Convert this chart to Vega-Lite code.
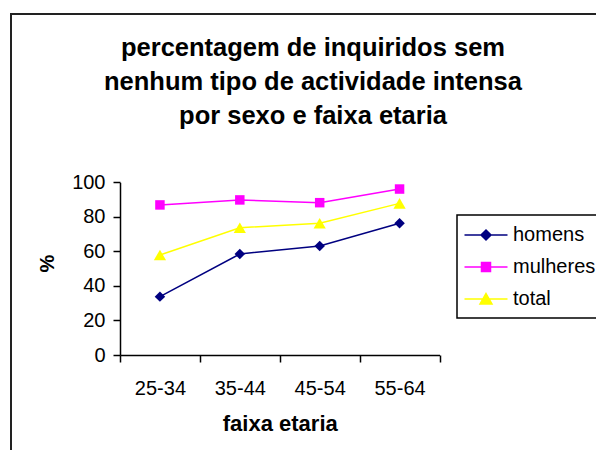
{
  "$schema": "https://vega.github.io/schema/vega-lite/v6.json",
  "width": 586,
  "height": 437,
  "autosize": {"type": "none"},
  "padding": {"left": 11, "top": 14, "right": -1, "bottom": -1},
  "background": "white",
  "title": {
    "text": ["percentagem de inquiridos sem", "nenhum tipo de actividade intensa", "por sexo e faixa etaria"],
    "frame": "group",
    "anchor": "middle",
    "orient": "top",
    "baseline": "alphabetic",
    "font": "Liberation Sans",
    "fontSize": 25.5,
    "fontWeight": "bold",
    "lineHeight": 34,
    "offset": -135,
    "dx": 9,
    "color": "black"
  },
  "data": {
    "values": [
      {"faixa": "25-34", "serie": "homens", "pct": 33.8},
      {"faixa": "35-44", "serie": "homens", "pct": 58.5},
      {"faixa": "45-54", "serie": "homens", "pct": 63.1},
      {"faixa": "55-64", "serie": "homens", "pct": 76.3},
      {"faixa": "25-34", "serie": "mulheres", "pct": 86.9},
      {"faixa": "35-44", "serie": "mulheres", "pct": 89.8},
      {"faixa": "45-54", "serie": "mulheres", "pct": 88.2},
      {"faixa": "55-64", "serie": "mulheres", "pct": 96.1},
      {"faixa": "25-34", "serie": "total", "pct": 57.9},
      {"faixa": "35-44", "serie": "total", "pct": 73.7},
      {"faixa": "45-54", "serie": "total", "pct": 76.3},
      {"faixa": "55-64", "serie": "total", "pct": 87.8}
    ]
  },
  "encoding": {
    "x": {
      "field": "faixa",
      "type": "ordinal",
      "scale": {"type": "band", "range": [109, 428.5], "paddingInner": 0, "paddingOuter": 0},
      "axis": {
        "orient": "bottom",
        "offset": -96,
        "title": "faixa etaria",
        "tickBand": "extent",
        "tickSize": 7,
        "labelPadding": 16,
        "labelAngle": 0,
        "labelFont": "Liberation Sans",
        "labelFontSize": 20,
        "labelColor": "black",
        "titleFont": "Liberation Sans",
        "titleFontSize": 22,
        "titleFontWeight": "bold",
        "titleColor": "black",
        "titlePadding": 15,
        "domainColor": "black",
        "domainWidth": 1.5,
        "tickColor": "black",
        "tickWidth": 1.5,
        "grid": false
      }
    },
    "y": {
      "field": "pct",
      "type": "quantitative",
      "scale": {"domain": [0, 100], "range": [341, 168.3], "nice": false, "zero": true},
      "axis": {
        "orient": "left",
        "offset": -109,
        "title": "%",
        "titleY": 249,
        "values": [0, 20, 40, 60, 80, 100],
        "tickSize": 7,
        "labelPadding": 8,
        "labelFont": "Liberation Sans",
        "labelFontSize": 20,
        "labelColor": "black",
        "titleFont": "Liberation Sans",
        "titleFontSize": 20,
        "titleFontWeight": "bold",
        "titleColor": "black",
        "titlePadding": 14,
        "domainColor": "black",
        "domainWidth": 1.5,
        "tickColor": "black",
        "tickWidth": 1.5,
        "grid": false
      }
    },
    "color": {
      "field": "serie",
      "type": "nominal",
      "scale": {"domain": ["homens", "mulheres", "total"], "range": ["#000080", "#FF00FF", "#FFFF00"]},
      "legend": {
        "orient": "none",
        "legendX": 446,
        "legendY": 201,
        "title": null,
        "strokeColor": "black",
        "fillColor": "white",
        "padding": 9,
        "rowPadding": 11,
        "labelOffset": 25,
        "labelFont": "Liberation Sans",
        "labelFontSize": 20,
        "labelColor": "black",
        "symbolSize": 400,
        "encode": {
          "legend": {"update": {"strokeWidth": {"value": 1.5}}},
          "symbols": {
            "update": {
              "shape": {"signal": "datum.value === 'homens' ? 'M-1.25,0H3.05M0.9,-0.5L1.4,0L0.9,0.5L0.4,0Z' : datum.value === 'mulheres' ? 'M-1.25,0H3.05M0.45,-0.45H1.35V0.45H0.45Z' : 'M-1.25,0H3.05M0.9,-0.55L1.5,0.5H0.3Z'"},
              "fill": {"signal": "scale('color', datum.value)"},
              "stroke": {"signal": "scale('color', datum.value)"},
              "strokeWidth": {"value": 1.5},
              "size": {"value": 400},
              "opacity": {"value": 1}
            }
          }
        }
      }
    }
  },
  "layer": [
    {"mark": {"type": "line", "strokeWidth": 1.5}},
    {
      "transform": [{"filter": "datum.serie === 'homens'"}],
      "mark": {"type": "point", "shape": "diamond", "filled": true, "opacity": 1, "size": 110}
    },
    {
      "transform": [{"filter": "datum.serie === 'mulheres'"}],
      "mark": {"type": "point", "shape": "square", "filled": true, "opacity": 1, "size": 90}
    },
    {
      "transform": [{"filter": "datum.serie === 'total'"}],
      "mark": {"type": "point", "shape": "triangle-up", "filled": true, "opacity": 1, "size": 150}
    }
  ],
  "config": {
    "view": {"stroke": "#222", "strokeWidth": 2}
  }
}
